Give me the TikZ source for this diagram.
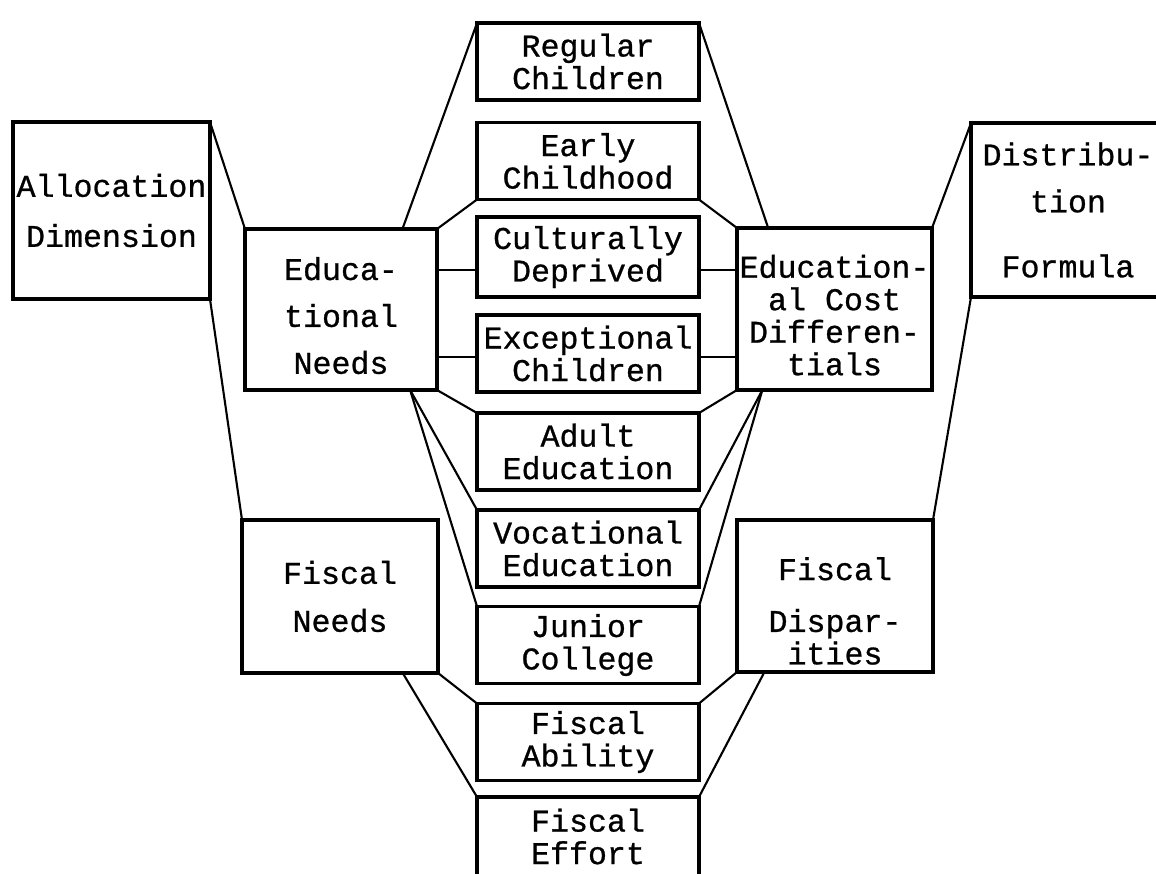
\documentclass[tikz,border=0pt]{standalone}
\usepackage{fontspec}
\newfontfamily\tw{Liberation Mono}[FakeBold=0.8]
\usetikzlibrary{calc}
\begin{document}
\begin{tikzpicture}[x=0.02cm,y=-0.02cm,
  box/.style={draw, line width=2.1pt, rectangle, inner sep=0pt, outer sep=0pt, align=center,
    font=\tw\fontsize{18}{18.5}\selectfont},
  midbox/.style={box, minimum width=4.44cm, minimum height=1.54cm},
  sidebox/.style={box, minimum width=3.9cm},
  conn/.style={line width=1.2pt},
]
\useasboundingbox (0,0) rectangle (1156,873);
\clip (0,0) rectangle (1156,873);

% outer boxes
\node[box, minimum width=3.94cm, minimum height=3.54cm] (alloc) at (111.5,210.5) {Allocation\\[10pt]Dimension};
\node[box, minimum width=3.88cm, minimum height=3.48cm] (dist) at (1068,210) {Distribu-\\[8.2pt]tion\\[18.5pt]Formula};

% side boxes
\node[sidebox, minimum width=3.84cm, minimum height=3.22cm] (edneeds) at (341,309.5) {\rule{0pt}{20pt}Educa-\\[8.2pt]tional\\[8.2pt]Needs};
\node[sidebox, minimum height=3.24cm] (edcost) at (834.5,309) {\rule{0pt}{20pt}Education-\\al Cost\\Differen-\\tials};
\node[sidebox, minimum width=3.92cm, minimum height=3.06cm] (fneeds) at (340,596.5) {Fiscal\\[8.8pt]Needs};
\node[sidebox, minimum width=3.92cm, minimum height=3.04cm] (fdisp) at (835,596) {\rule{0pt}{30pt}Fiscal\\[11pt]Dispar-\\ities};

% middle column
\node[midbox] (reg)   at (588,61.5)  {Regular\\Children};
\node[midbox] (early) at (588,161)   {Early\\Childhood};
\node[midbox, minimum height=1.6cm] (cult) at (588,257) {Culturally\\Deprived};
\node[midbox] (exc)   at (588,353.5) {Exceptional\\Children};
\node[midbox] (adult) at (588,451.5) {Adult\\Education};
\node[midbox] (voc)   at (588,548.5) {Vocational\\Education};
\node[midbox] (jc)    at (588,645)   {Junior\\College};
\node[midbox] (fab)   at (588,742)   {Fiscal\\Ability};
\node[midbox, minimum height=1.58cm] (feff) at (588,836.5) {Fiscal\\Effort};

% points on box edges
\coordinate (ent) at ($(edneeds.north west)!0.82!(edneeds.north east)$);
\coordinate (enb) at ($(edneeds.south west)!0.86!(edneeds.south east)$);
\coordinate (ect) at ($(edcost.north west)!0.16!(edcost.north east)$);
\coordinate (ecb) at ($(edcost.south west)!0.13!(edcost.south east)$);
\coordinate (fnb) at ($(fneeds.south west)!0.82!(fneeds.south east)$);
\coordinate (fdb) at ($(fdisp.south west)!0.14!(fdisp.south east)$);
\coordinate (cw) at ([yshift=-0.26cm]cult.west);
\coordinate (ce) at ([yshift=-0.26cm]cult.east);
\coordinate (xw) at ([yshift=-0.07cm]exc.west);
\coordinate (xe) at ([yshift=-0.07cm]exc.east);

% connectors
\draw[conn] (alloc.north east) -- (edneeds.north west);
\draw[conn] (alloc.south east) -- (fneeds.north west);
\draw[conn] (dist.north west) -- (edcost.north east);
\draw[conn] (dist.south west) -- (fdisp.north east);

\draw[conn] (reg.north west) -- (ent);
\draw[conn] (reg.north east) -- (ect);
\draw[conn] (early.south west) -- (edneeds.north east);
\draw[conn] (early.south east) -- (edcost.north west);

\draw[conn] (cw -| edneeds.east) -- (cw);
\draw[conn] (ce) -- (ce -| edcost.west);
\draw[conn] (xw -| edneeds.east) -- (xw);
\draw[conn] (xe) -- (xe -| edcost.west);

\draw[conn] (edneeds.south east) -- (adult.north west);
\draw[conn] (adult.north east) -- (edcost.south west);
\draw[conn] (enb) -- (voc.north west);
\draw[conn] (enb) -- (jc.north west);
\draw[conn] (ecb) -- (voc.north east);
\draw[conn] (ecb) -- (jc.north east);

\draw[conn] (fneeds.south east) -- (fab.north west);
\draw[conn] (fnb) -- (feff.north west);
\draw[conn] (fdisp.south west) -- (fab.north east);
\draw[conn] (fdb) -- (feff.north east);
\end{tikzpicture}
\end{document}
